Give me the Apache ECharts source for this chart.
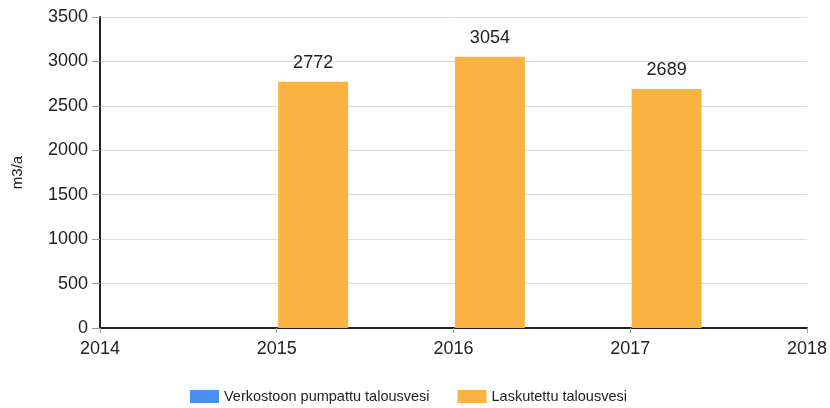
<!DOCTYPE html>
<html>
<head>
<meta charset="utf-8">
<script src="https://cdn.jsdelivr.net/npm/echarts@6/dist/echarts.min.js"></script>
<style>
  html, body { margin: 0; padding: 0; background: #fff; }
  #chart { width: 830px; height: 408px; }
</style>
</head>
<body>
<div id="chart"></div>
<script>
const years = ["2014", "2015", "2016", "2017", "2018"];
const pumped = [null, null, null, null, null];
const billed = [null, 2772, 3054, 2689, null];
const seriesNames = ["Verkostoon pumpattu talousvesi", "Laskutettu talousvesi"];

const font = "Liberation Sans, Arial, sans-serif";

const chart = echarts.init(document.getElementById("chart"), null, { renderer: "canvas" });

chart.setOption({
  animation: false,
  textStyle: { fontFamily: font },
  grid: { left: 100, right: 22, top: 17, bottom: 80 },
  legend: {
    top: 384,
    left: 185,
    itemWidth: 29,
    itemHeight: 13,
    itemGap: 28,
    icon: "rect",
    textStyle: { fontSize: 14.5, color: "#222", fontFamily: font },
    data: seriesNames
  },
  xAxis: {
    type: "category",
    data: years,
    boundaryGap: false,
    axisLine: { lineStyle: { color: "#222", width: 2 } },
    axisTick: { show: true, alignWithLabel: true, length: 5, lineStyle: { color: "#999" } },
    axisLabel: { fontSize: 18, color: "#222", margin: 12, fontFamily: font },
    splitLine: { show: false }
  },
  yAxis: {
    type: "value",
    min: 0,
    max: 3500,
    interval: 500,
    name: "m3/a",
    nameLocation: "middle",
    nameGap: 75,
    nameRotate: 90,
    nameTextStyle: { fontSize: 15, color: "#222", fontFamily: font },
    axisLine: { show: true, lineStyle: { color: "#222", width: 2 } },
    axisTick: { show: true, length: 8, lineStyle: { color: "#999" } },
    axisLabel: { fontSize: 18, color: "#222", margin: 12, fontFamily: font, formatter: (v) => String(v) },
    splitLine: { show: true, lineStyle: { color: "#ddd", width: 1 } }
  },
  series: [
    {
      name: seriesNames[0],
      type: "bar",
      data: pumped,
      barWidth: 70,
      barGap: "4%",
      itemStyle: { color: "#4a8ff0" }
    },
    {
      name: seriesNames[1],
      type: "bar",
      data: billed,
      barWidth: 70,
      barGap: "4%",
      itemStyle: { color: "#fbb444" },
      label: {
        show: true,
        position: "top",
        distance: 10,
        fontSize: 18,
        color: "#222",
        fontFamily: font
      }
    }
  ]
});
</script>
</body>
</html>
